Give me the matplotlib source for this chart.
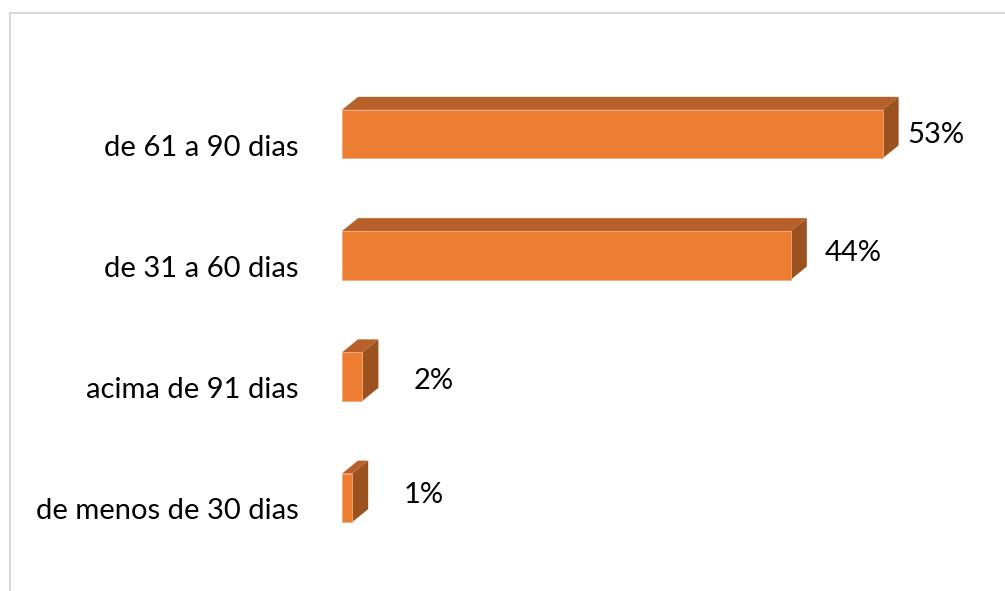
import numpy as np
import matplotlib
matplotlib.use("Agg")
import matplotlib.pyplot as plt
from matplotlib.patches import Polygon, Rectangle
from matplotlib.transforms import ScaledTranslation

# Data (bottom to top)
categories = ["de menos de 30 dias", "acima de 91 dias", "de 31 a 60 dias", "de 61 a 90 dias"]
values = [1, 2, 44, 53]
value_labels = ["1%", "2%", "44%", "53%"]

# Colours for the 3D-looking bars
front_color = "#ED7D31"
top_color = "#B8602A"
side_color = "#9C521F"

plt.rcParams['font.family'] = ['Lato', 'DejaVu Sans']

W, H = 1005, 591
fig = plt.figure(figsize=(W / 100, H / 100), dpi=100)

# Axes placed so that zero sits at the bars' left edge
x0_px, x1_px = 342, 960
top_px, bot_px = 73.5, 558.5
ax = fig.add_axes([x0_px / W, 1 - bot_px / H, (x1_px - x0_px) / W, (bot_px - top_px) / H])
px_per_unit = 10.2
ax.set_xlim(0, (x1_px - x0_px) / px_per_unit)
ax.set_ylim(-0.5, len(categories) - 0.5)

ypos = np.arange(len(categories))
bar_h = 0.4
bars = ax.barh(ypos, values, height=bar_h, color=front_color, edgecolor="#F3A878", linewidth=0.6, zorder=3)

# depth of the fake 3D in data units
y_px_per_unit = (bot_px - top_px) / len(categories)
depth_x = 16 / px_per_unit
depth_y = 13 / y_px_per_unit

for y, v in zip(ypos, values):
    top = y + bar_h / 2
    bottom = y - bar_h / 2
    top_face = Polygon([(0, top), (v, top), (v + depth_x, top + depth_y), (depth_x, top + depth_y)],
                       closed=True, facecolor=top_color, edgecolor="none", zorder=2)
    side_face = Polygon([(v, bottom), (v + depth_x, bottom + depth_y), (v + depth_x, top + depth_y), (v, top)],
                        closed=True, facecolor=side_color, edgecolor="none", zorder=2)
    ax.add_patch(top_face)
    ax.add_patch(side_face)

# value labels to the right of the bars (pixel offsets, +dy = down)
label_dx_px = [51, 51, 34, 25]
label_dy_px = [-3, 4, -2, 1]
for y, v, lab, dx, dy in zip(ypos, values, value_labels, label_dx_px, label_dy_px):
    ax.annotate(lab, xy=(v, y), xytext=(dx * 0.72, -dy * 0.72), textcoords="offset points",
                ha="left", va="center", fontsize=21, color="#000000")

ax.set_yticks(ypos)
ax.set_yticklabels(categories, fontsize=21)
ax.set_xticks([])
ax.tick_params(axis="y", length=0, pad=31)
for lbl in ax.get_yticklabels():
    lbl.set_transform(lbl.get_transform() + ScaledTranslation(0, -0.11, fig.dpi_scale_trans))
for s in ax.spines.values():
    s.set_visible(False)

# light grey chart frame
fig.add_artist(Rectangle((10 / W, -0.1), 1.2, 1.1 - 13 / H, transform=fig.transFigure,
                         fill=False, edgecolor="#D9D9D9", linewidth=1.5, clip_on=False))

fig.savefig("out.png", dpi=100)
